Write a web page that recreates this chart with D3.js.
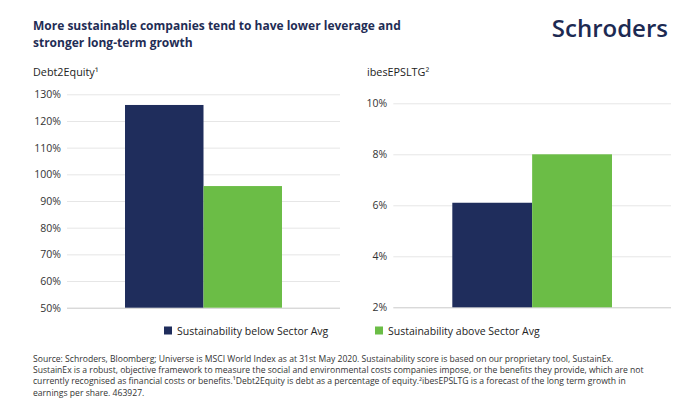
<!DOCTYPE html>
<html>
<head>
<meta charset="utf-8">
<script src="https://cdn.jsdelivr.net/npm/d3@7"></script>
<style>
  body { margin: 0; background: #fff; }
  svg { display: block; font-family: "Open Sans", sans-serif; }
</style>
</head>
<body>
<svg id="chart" width="692" height="405"></svg>
<script>
// chart data
const series      = ['Sustainability below Sector Avg', 'Sustainability above Sector Avg'];
const seriesKeys  = ['below', 'above'];
const colors      = ['#1f2d5c', '#6bbd46'];

const debtTitle   = 'Debt2Equity¹';
const debtValues  = [126, 95.6];
const debtTicks   = [50, 60, 70, 80, 90, 100, 110, 120, 130];

const epsTitle    = 'ibesEPSLTG²';
const epsValues   = [6.1, 8.0];
const epsTicks    = [2, 4, 6, 8, 10];

const titleLines  = [
  'More sustainable companies tend to have lower leverage and',
  'stronger long-term growth'
];
const footLines   = [
  'Source: Schroders, Bloomberg; Universe is MSCI World Index as at 31st May 2020. Sustainability score is based on our proprietary tool, SustainEx.',
  'SustainEx is a robust, objective framework to measure the social and environmental costs companies impose, or the benefits they provide, which are not',
  'currently recognised as financial costs or benefits.¹Debt2Equity is debt as a percentage of equity.²ibesEPSLTG is a forecast of the long term growth in',
  'earnings per share. 463927.'
];

const svg = d3.select('#chart');
const navy = '#1f2d55';

// heading
svg.selectAll('text.title')
  .data(titleLines)
  .join('text')
  .attr('class', 'title')
  .attr('x', 33)
  .attr('y', (d, i) => 30.2 + i * 16.4)
  .attr('font-size', 12)
  .attr('font-weight', 700)
  .attr('fill', navy)
  .text(d => d);

svg.append('text')
  .attr('x', 668)
  .attr('y', 37)
  .attr('text-anchor', 'end')
  .attr('font-size', 24)
  .attr('font-weight', 600)
  .attr('fill', '#1d2a52')
  .text('Schroders');

// one panel = one bar group
function panel(opts) {
  const g = svg.append('g');

  const y = d3.scaleLinear()
    .domain(opts.domain)
    .range([opts.bottom, opts.top]);

  const inset = (opts.right - opts.left) * 0.2125;
  const x = d3.scaleBand()
    .domain(seriesKeys)
    .range([opts.left + inset, opts.right - inset])
    .padding(0);

  g.append('text')
    .attr('x', opts.titleX)
    .attr('y', 76)
    .attr('font-size', 10.8)
    .attr('fill', '#222')
    .text(opts.title);

  const axis = g.append('g')
    .attr('transform', `translate(${opts.left},0)`)
    .call(d3.axisLeft(y)
      .tickValues(opts.ticks)
      .tickSize(-(opts.right - opts.left))
      .tickPadding(6)
      .tickFormat(d => d + '%'));
  axis.select('.domain').remove();
  axis.selectAll('.tick line')
    .attr('stroke', (d, i) => i == 0 ? '#c9c9c9' : '#e6e6e6');
  axis.selectAll('.tick text')
    .attr('font-family', '"Open Sans", sans-serif')
    .attr('font-size', 10.5)
    .attr('fill', '#333');

  g.selectAll('rect.bar')
    .data(opts.values)
    .join('rect')
    .attr('class', 'bar')
    .attr('x', (d, i) => x(seriesKeys[i]))
    .attr('width', x.bandwidth())
    .attr('y', d => y(d))
    .attr('height', d => y(opts.domain[0]) - y(d))
    .attr('fill', (d, i) => colors[i]);
}

panel({
  title: debtTitle, titleX: 33,
  values: debtValues, ticks: debtTicks, domain: [50, 130],
  left: 67, right: 340, top: 94.3, bottom: 307.7
});

panel({
  title: epsTitle, titleX: 367,
  values: epsValues, ticks: epsTicks, domain: [2, 10],
  left: 393.3, right: 671, top: 103.3, bottom: 307.3
});

// legend
const legendX = [164, 375];
const legend = svg.selectAll('g.legend')
  .data(series)
  .join('g')
  .attr('class', 'legend')
  .attr('transform', (d, i) => `translate(${legendX[i]},326.5)`);
legend.append('rect')
  .attr('width', 8).attr('height', 8)
  .attr('fill', (d, i) => colors[i]);
legend.append('text')
  .attr('x', 13).attr('y', 8)
  .attr('font-size', 10.5)
  .attr('fill', '#222')
  .text(d => d);

// footnote
svg.selectAll('text.foot')
  .data(footLines)
  .join('text')
  .attr('class', 'foot')
  .attr('x', 33)
  .attr('y', (d, i) => 362 + i * 11.2)
  .attr('font-size', 8.6)
  .attr('fill', '#333')
  .text(d => d);
</script>
</body>
</html>
